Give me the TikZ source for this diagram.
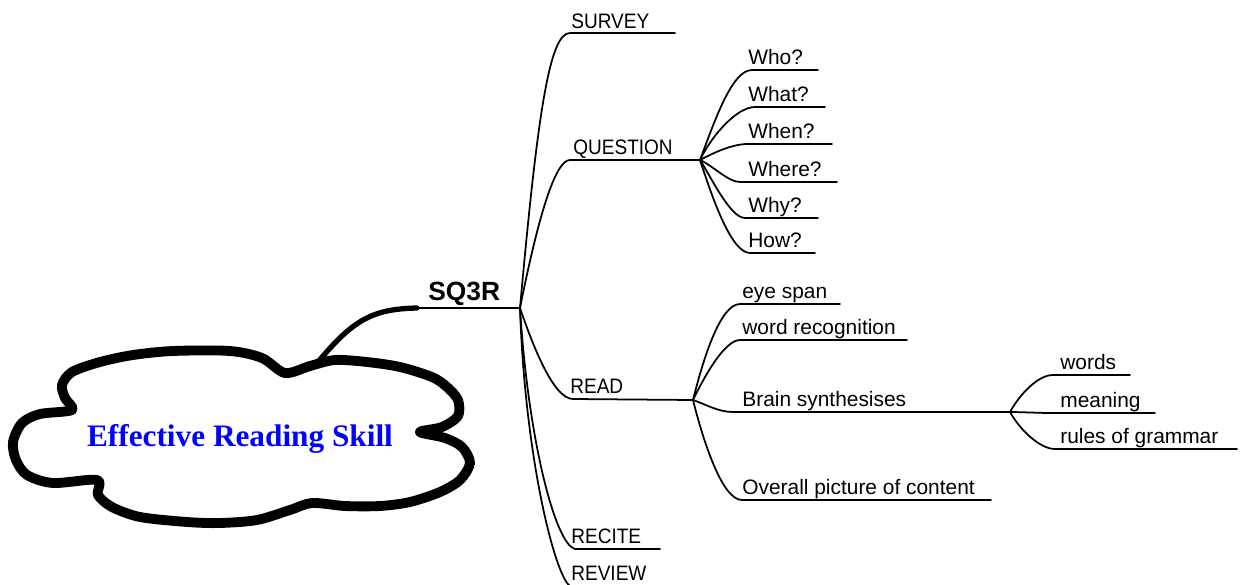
\documentclass[tikz,border=0pt]{standalone}
\usepackage{fontspec}
\setmainfont{Liberation Sans}
\newfontfamily\condfont[FakeStretch=0.91]{Liberation Sans}
\newfontfamily\cloudfont{Liberation Serif}
\begin{document}
\begin{tikzpicture}[x=0.02cm,y=-0.02cm,
    lbl/.style={anchor=base west,inner sep=0pt,yshift=3.4pt,font=\fontsize{11.9}{14}\selectfont},
    caplbl/.style={lbl,font=\condfont\fontsize{11.9}{14}\selectfont},
    twig/.style={line width=1pt,line cap=round}]
    \useasboundingbox (0,0) rectangle (1242,585);

    % Cloud
    \draw[line width=5.6pt,fill=white,line join=round]
        plot[smooth cycle,tension=0.5] coordinates {
        (285,373) (262,358) (230,351) (173,351) (133,355) (100,362) (72,372) (62,385) (65,398) (72,410)
        (40,414) (22,423) (13,442) (16,460) (27,475) (53,483) (97,480)
        (98,495) (112,507) (140,517) (187,522) (220,523) (257,520) (290,510) (312,503)
        (345,506) (380,506) (410,502) (440,492) (460,480) (470,463) (462,447) (445,438) (420,432)
        (442,427) (458,416) (458,400) (447,387) (432,377) (400,367) (367,362) (335,360) (310,366)};
    \node[anchor=base,text=blue,font=\cloudfont\bfseries\fontsize{17.8}{20}\selectfont] (skill) at (240,446) {Effective Reading Skill};

    % SQ3R
    \coordinate (cloudtop) at (318,362);
    \coordinate (sq3r-l) at (417,308);
    \coordinate (sq3r-r) at (520,308);
    \node[lbl,yshift=1.1pt,font=\bfseries\fontsize{15}{18}\selectfont] (sq3r) at (428,308) {SQ3R};
    \draw[line width=3pt,line cap=round] (cloudtop) .. controls +(35,-42) and +(-45,1) .. (sq3r-l);
    \draw[line width=1.3pt] (sq3r-l) -- (sq3r-r);

    % First level
    \coordinate (survey-l) at (570,33);   \coordinate (survey-r) at (675,33);
    \coordinate (question-l) at (570,160); \coordinate (question-r) at (700,160);
    \coordinate (read-l) at (573,399);    \coordinate (read-r) at (693,400);
    \coordinate (recite-l) at (575,549);  \coordinate (recite-r) at (660,549);
    \coordinate (review-l) at (570,586);  \coordinate (review-r) at (650,586);
    \node[caplbl,yshift=-1.1pt] (survey) at (571,33) {SURVEY};
    \node[caplbl] (question) at (573,160) {QUESTION};
    \node[caplbl] (read) at (570,399) {READ};
    \node[caplbl] (recite) at (571,549) {RECITE};
    \node[caplbl] (review) at (571,586) {REVIEW};
    \draw[twig] (sq3r-r) .. controls +(18,-200) and +(-20,0) .. (survey-l) -- (survey-r);
    \draw[twig] (sq3r-r) .. controls +(18,-90) and +(-15,0) .. (question-l) -- (question-r);
    \draw[twig] (sq3r-r) .. controls +(12,35) and +(-20,0) .. (read-l) -- (read-r);
    \draw[twig] (sq3r-r) .. controls +(8,130) and +(-20,-5) .. (recite-l) -- (recite-r);
    \draw[twig] (sq3r-r) .. controls +(5,150) and +(-15,-10) .. (review-l) -- (review-r);

    % Question words
    \coordinate (who-l) at (752,70);    \coordinate (who-r) at (818,70);
    \coordinate (what-l) at (755,107);  \coordinate (what-r) at (825,107);
    \coordinate (when-l) at (748,144);  \coordinate (when-r) at (832,144);
    \coordinate (where-l) at (740,182); \coordinate (where-r) at (837,182);
    \coordinate (why-l) at (745,218);   \coordinate (why-r) at (818,218);
    \coordinate (how-l) at (750,253);   \coordinate (how-r) at (815,253);
    \node[lbl] (who) at (748,70) {Who?};
    \node[lbl] (what) at (748,107) {What?};
    \node[lbl] (when) at (748,144) {When?};
    \node[lbl] (where) at (748,182) {Where?};
    \node[lbl] (why) at (748,218) {Why?};
    \node[lbl] (how) at (748,253) {How?};
    \draw[twig] (question-r) .. controls +(15,-40) and +(-20,0) .. (who-l) -- (who-r);
    \draw[twig] (question-r) .. controls +(12,-25) and +(-18,0) .. (what-l) -- (what-r);
    \draw[twig] (question-r) .. controls +(15,-8) and +(-15,0) .. (when-l) -- (when-r);
    \draw[twig] (question-r) .. controls +(12,5) and +(-12,0) .. (where-l) -- (where-r);
    \draw[twig] (question-r) .. controls +(10,15) and +(-15,0) .. (why-l) -- (why-r);
    \draw[twig] (question-r) .. controls +(10,30) and +(-20,0) .. (how-l) -- (how-r);

    % Read
    \coordinate (eye-l) at (740,304);     \coordinate (eye-r) at (840,304);
    \coordinate (word-l) at (740,340);    \coordinate (word-r) at (907,340);
    \coordinate (brain-l) at (733,412);   \coordinate (brain-r) at (1010,412);
    \coordinate (overall-l) at (742,500); \coordinate (overall-r) at (991,500);
    \node[lbl] (eye) at (742,304) {eye span};
    \node[lbl] (word) at (742,340) {word recognition};
    \node[lbl] (brain) at (742,412) {Brain synthesises};
    \node[lbl] (overall) at (742,500) {Overall picture of content};
    \draw[twig] (read-r) .. controls +(10,-40) and +(-20,0) .. (eye-l) -- (eye-r);
    \draw[twig] (read-r) .. controls +(12,-25) and +(-15,0) .. (word-l) -- (word-r);
    \draw[twig] (read-r) .. controls +(12,4) and +(-15,0) .. (brain-l) -- (brain-r);
    \draw[twig] (read-r) .. controls +(10,40) and +(-20,0) .. (overall-l) -- (overall-r);

    % Brain synthesises
    \coordinate (words-l) at (1053,375);   \coordinate (words-r) at (1130,375);
    \coordinate (meaning-l) at (1050,413); \coordinate (meaning-r) at (1155,413);
    \coordinate (rules-l) at (1055,449);   \coordinate (rules-r) at (1237,449);
    \node[lbl] (words) at (1060,375) {words};
    \node[lbl] (meaning) at (1060,413) {meaning};
    \node[lbl] (rules) at (1060,449) {rules of grammar};
    \draw[twig] (brain-r) .. controls +(10,-18) and +(-15,0) .. (words-l) -- (words-r);
    \draw[twig] (brain-r) .. controls +(10,0) and +(-10,0) .. (meaning-l) -- (meaning-r);
    \draw[twig] (brain-r) .. controls +(10,18) and +(-15,0) .. (rules-l) -- (rules-r);
\end{tikzpicture}
\end{document}
